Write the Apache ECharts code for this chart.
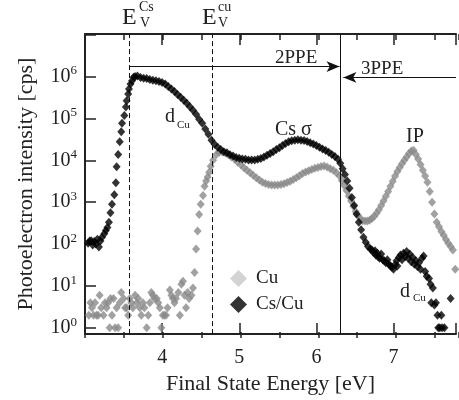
<!DOCTYPE html>
<html><head><meta charset="utf-8">
<script src="https://cdn.jsdelivr.net/npm/echarts@6/dist/echarts.min.js"></script>
<style>html,body{margin:0;padding:0;background:#fff}#c{width:459px;height:400px}</style>
</head><body><div id="c"></div>
<script>
// ---- Cs/Cu (black diamonds) ----
const csE = [3.04,3.06,3.08,3.10,3.12,3.14,3.16,3.18,3.20,3.22,3.25,3.27,3.29,3.31,3.33,3.35,3.38,3.40,3.41,3.43,3.45,3.47,3.48,3.51,3.53,3.54,3.56,3.57,3.59,3.61,3.63,3.65,3.68,
3.72,3.76,3.80,3.84,3.88,3.92,3.96,4.00,4.04,4.08,4.12,4.16,4.20,4.24,4.28,4.32,4.36,4.40,4.44,4.48,4.52,4.56,4.60,4.64,4.68,4.72,4.76,4.80,4.84,4.88,4.92,4.96,
5.00,5.04,5.08,5.12,5.16,5.20,5.24,5.28,5.32,5.36,5.40,5.44,5.48,5.52,5.56,5.60,5.64,5.68,5.72,5.76,5.80,5.84,5.88,5.92,5.96,6.00,6.04,6.08,6.12,6.16,6.20,6.24,6.28,6.31,
6.34,6.37,6.40,6.43,6.46,6.49,6.52,6.55,6.58,6.61,6.64,6.67,6.70,
6.72,6.74,6.76,6.77,6.79,6.80,6.82,6.84,6.86,6.88,6.90,6.92,6.94,6.96,6.98,7.00,7.02,7.04,7.05,7.07,7.09,7.11,7.13,7.15,7.17,7.19,7.21,7.23,7.25,7.27,7.29,7.31,7.33,7.35,7.37,7.39,7.41,7.43,7.46,7.48,7.49,7.51,7.53,7.55,7.57,7.58,7.60,7.62,7.63,7.66,7.74];
const csI = [105,118,120,95,115,100,130,85,118,145,175,210,250,330,560,890,1500,2900,7000,13800,27500,48000,76000,117000,186000,263000,380000,500000,660000,794000,955000,1000000,1020000,
950000,910000,890000,850000,810000,790000,760000,720000,660000,575000,500000,440000,370000,320000,270000,230000,190000,155000,126000,95000,76000,56000,42000,30000,24000,20500,18000,16000,15000,13500,12600,11700,
11200,10700,10500,10200,10200,10200,10500,11000,12000,13200,14500,16000,18000,20000,22500,25000,27500,29000,30000,31000,30000,29500,28000,26000,24500,22500,20500,18500,17000,15500,13800,12300,10500,8500,
6300,4600,3200,2150,1300,830,520,330,220,145,110,87,76,
72,63,69,55,60,50,46,58,42,40,36,42,33,30,28,25,32,40,30,48,55,42,60,50,66,46,58,38,48,33,40,29,36,25,46,52,22,17,15,11,4,9,3.5,4,2,1,1,2,1,1,5];

// ---- Cu (grey diamonds) ----
const cuE = [3.05,3.07,3.09,3.11,3.13,3.15,3.17,3.19,3.21,3.24,3.26,3.28,3.30,3.32,3.33,3.35,3.37,3.39,3.41,3.43,3.45,3.47,3.50,3.52,3.54,3.56,3.58,3.60,3.62,3.65,3.67,3.69,3.71,3.73,3.75,3.77,3.80,3.82,3.84,3.86,3.88,3.90,3.93,3.95,3.97,3.99,4.01,4.03,4.05,4.07,4.10,4.12,4.14,4.16,4.18,4.21,4.23,4.25,4.27,4.29,4.31,4.33,4.35,4.38,4.40,4.42,
4.44,4.46,4.48,4.50,4.53,4.55,4.57,4.59,4.61,4.63,4.66,4.70,4.74,4.78,4.82,4.86,4.90,4.94,4.98,5.02,5.06,5.10,5.14,5.18,5.22,5.26,5.30,5.34,5.38,5.42,5.46,5.50,5.54,5.58,5.62,5.66,5.70,5.74,5.78,5.82,5.86,5.90,5.94,5.98,6.02,6.06,6.10,6.14,6.18,6.22,6.26,6.30,
6.33,6.36,6.39,6.42,6.45,6.48,6.51,6.54,6.57,6.60,6.63,6.66,6.69,6.72,6.75,6.78,6.81,6.84,6.87,6.90,6.93,6.96,6.99,7.02,7.05,7.08,7.11,7.14,7.17,7.20,7.23,7.26,7.29,7.32,7.35,7.38,7.41,7.44,7.47,7.50,7.53,7.56,7.59,7.62,7.65,7.68,7.71,7.74,7.77,7.80];
const cuI = [2,4,3,2,4,2,2,6,3,2,4,3,4,1,5,2,5,1,3,1,4,7,5,3,3,2,5,4,3,6,4,5,3,2,4,3,1,2,4,7,6,5,5,4,3,1,2,2,2,3,8,6,5,4,5,7,2,11,13,6,3,7,5,6,9,21,
76,204,510,890,1450,2400,3200,4000,5200,7200,10000,13500,15500,15800,14800,13500,12000,10500,8900,7800,6600,5750,5000,4400,3800,3400,3000,2800,2630,2570,2570,2570,2630,2750,2950,3160,3470,3800,4270,4800,5250,5600,6000,6450,6750,7100,7250,6900,6300,5750,5000,4200,
3300,2500,1900,1400,1070,800,600,480,400,360,355,355,370,410,460,540,660,830,1070,1380,1800,2400,3160,4200,5400,6750,8300,10000,12000,14500,16600,17400,13800,10700,7900,5750,4200,3000,1800,1000,525,330,260,200,162,129,105,87,72,25];

const seriesNames = ['Cu', 'Cs/Cu'];
const xLabelTicks = [4, 5, 6, 7];
const yLabelExps = [0, 1, 2, 3, 4, 5, 6];
const edgeLines = [3.58, 4.65];      // E_V^Cs, E_V^cu
const boundaryLine = 6.31;           // 2PPE / 3PPE boundary
const arrow2PPE = [3.58, 6.30, 1.72e6];
const arrow3PPE = [7.81, 6.35, 9.47e5];

const FONT = "'Liberation Serif', 'Times New Roman', serif";
const INK = '#222';
const zip = (a, b) => a.map((v, i) => [v, b[i]]);

const chart = echarts.init(document.getElementById('c'), null, {renderer: 'canvas'});

const gridGeom = {left: 85, right: 0, top: 34, bottom: 62};
const xBase = {type: 'value', min: 3, max: 7.81, splitLine: {show: false}};

function txt(x, y, text, size) {
  return {type: 'text', x: x, y: y, silent: true,
    style: {text: text, fontSize: size, fontFamily: FONT, fill: INK,
      align: 'left', verticalAlign: 'middle', textAlign: 'left', textVerticalAlign: 'middle'}};
}

chart.setOption({
  animation: false,
  backgroundColor: '#fff',
  grid: [Object.assign({}, gridGeom), Object.assign({}, gridGeom)],
  xAxis: [
    Object.assign({}, xBase, {gridIndex: 0, position: 'bottom', interval: 1,
      axisLine: {show: true, lineStyle: {color: INK, width: 2}},
      axisTick: {show: true, inside: true, length: 11, lineStyle: {color: INK, width: 1.5}},
      axisLabel: {fontSize: 20, fontFamily: FONT, color: INK, margin: 14,
        formatter: v => xLabelTicks.indexOf(Math.round(v * 100) / 100) >= 0 ? String(v) : ''},
      name: 'Final State Energy [eV]', nameLocation: 'middle', nameGap: 34,
      nameTextStyle: {fontSize: 22, fontFamily: FONT, color: INK}}),
    Object.assign({}, xBase, {gridIndex: 0, position: 'top', interval: 1,
      axisLine: {show: true, lineStyle: {color: INK, width: 2}},
      axisTick: {show: true, inside: true, length: 11, lineStyle: {color: INK, width: 1.5}},
      axisLabel: {show: false}}),
    Object.assign({}, xBase, {gridIndex: 1, position: 'bottom', interval: 0.5,
      axisLine: {show: false},
      axisTick: {show: true, inside: true, length: 6, lineStyle: {color: INK, width: 1.5}},
      axisLabel: {show: false}}),
    Object.assign({}, xBase, {gridIndex: 1, position: 'top', interval: 0.5,
      axisLine: {show: false},
      axisTick: {show: true, inside: true, length: 6, lineStyle: {color: INK, width: 1.5}},
      axisLabel: {show: false}})
  ],
  yAxis: [
    {gridIndex: 0, type: 'log', logBase: 10, min: 0.71, max: 1.03e7,
      splitLine: {show: false},
      axisLine: {show: true, lineStyle: {color: INK, width: 2}},
      axisTick: {show: true, inside: true, length: 11, lineStyle: {color: INK, width: 1.5}},
      axisLabel: {margin: 8, color: INK,
        formatter: function (v) {
          const l = Math.log10(v), e = Math.round(l);
          if (Math.abs(l - e) > 1e-6 || yLabelExps.indexOf(e) < 0) return '';
          return '{b|10}{s|' + e + '}';
        },
        rich: {b: {fontSize: 20, fontFamily: FONT, color: INK, lineHeight: 24},
               s: {fontSize: 13, fontFamily: FONT, color: INK, verticalAlign: 'top', lineHeight: 13}}},
      name: 'Photoelectron intensity [cps]', nameLocation: 'middle', nameGap: 48,
      nameTextStyle: {fontSize: 22, fontFamily: FONT, color: INK}},
    {gridIndex: 1, type: 'log', min: 0.71, max: 1.03e7, show: false}
  ],
  legend: {
    orient: 'vertical', left: 225, top: 264, itemWidth: 17, itemHeight: 17, itemGap: 7,
    icon: 'diamond',
    textStyle: {fontSize: 19, fontFamily: FONT, color: INK, padding: [0, 0, 0, 4]},
    data: [{name: seriesNames[0], itemStyle: {color: '#c8c8c8'}}, {name: seriesNames[1], itemStyle: {color: '#000'}}]
  },
  series: [
    {name: seriesNames[0], type: 'scatter', xAxisIndex: 0, yAxisIndex: 0, symbol: 'diamond', symbolSize: [8, 9],
      itemStyle: {color: '#8a8a8a'}, data: zip(cuE, cuI), z: 2},
    {name: seriesNames[1], type: 'scatter', xAxisIndex: 0, yAxisIndex: 0, symbol: 'diamond', symbolSize: [8, 9],
      itemStyle: {color: '#000'}, data: zip(csE, csI), z: 3,
      markLine: {silent: true, symbol: 'none', animation: false, label: {show: false},
        lineStyle: {color: '#111', width: 1, type: 'solid'},
        data: [
          {xAxis: edgeLines[0], lineStyle: {type: [5, 3]}},
          {xAxis: edgeLines[1], lineStyle: {type: [5, 3]}},
          {xAxis: boundaryLine, lineStyle: {type: 'solid'}},
          [{coord: [arrow2PPE[0], arrow2PPE[2]], symbol: 'none'},
           {coord: [arrow2PPE[1], arrow2PPE[2]], symbol: 'arrow', symbolSize: [8, 13]}],
          [{coord: [arrow3PPE[0], arrow3PPE[2]], symbol: 'none'},
           {coord: [arrow3PPE[1], arrow3PPE[2]], symbol: 'arrow', symbolSize: [8, 13]}]
        ]}}
  ],
  graphic: [
    txt(122, 18, 'E', 24), txt(139, 7.5, 'Cs', 14), txt(140, 23, 'V', 14),
    txt(202, 18, 'E', 24), txt(218, 7, 'cu', 14), txt(218, 23, 'V', 14),
    txt(275, 58, '2PPE', 19), txt(361, 69, '3PPE', 19),
    txt(165, 117, 'd', 20), txt(177, 125, 'Cu', 11),
    txt(275, 130, 'Cs σ', 20),
    txt(406, 137, 'IP', 20),
    txt(400, 292, 'd', 20), txt(413, 298, 'Cu', 11)
  ]
});
</script></body></html>
